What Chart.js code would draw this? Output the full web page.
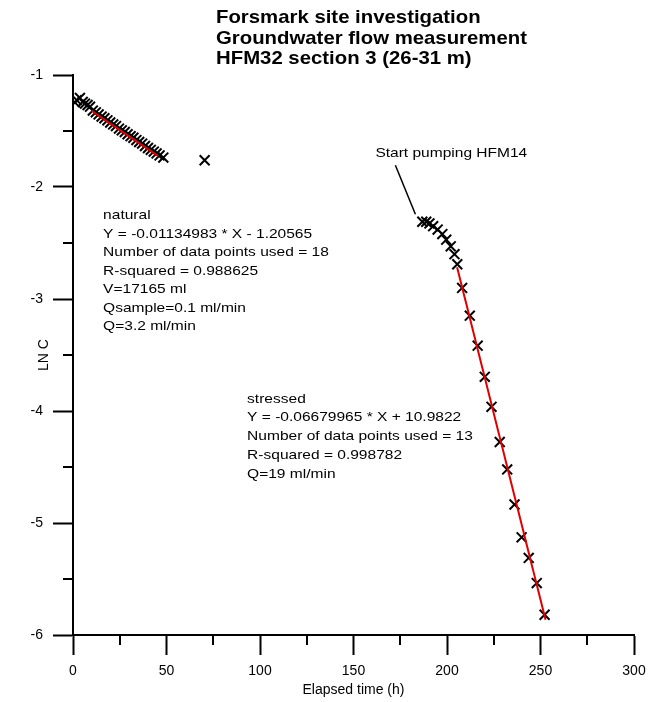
<!DOCTYPE html>
<html>
<head>
<meta charset="utf-8">
<script src="https://cdn.jsdelivr.net/npm/chart.js@4.4.1/dist/chart.umd.min.js"></script>
<style>
  html, body { margin: 0; padding: 0; background: #fff; }
  #wrap { width: 648px; height: 702px; }
</style>
</head>
<body>
<div id="wrap"><canvas id="lnChart" width="648" height="702"></canvas></div>
<script>
const titleLines = ['Forsmark site investigation', 'Groundwater flow measurement', 'HFM32 section 3 (26-31 m)'];
const xTitle = 'Elapsed time (h)';
const yTitle = 'LN C';

const xTickLabels = ['0', '50', '100', '150', '200', '250', '300'];
const yTickLabels = ['-6', '-5', '-4', '-3', '-2', '-1'];

// natural flow period
const naturalTime = [1.0, 2.0, 3.7, 5.2, 6.4, 7.8, 9.1, 10.6, 12.2, 13.7, 15.3, 16.8, 18.4, 19.9, 21.5, 23.0, 24.6,
    26.1, 27.7, 29.2, 30.8, 32.3, 33.9, 35.4, 37.0, 38.5, 40.1, 41.6, 43.2, 44.7, 46.3, 48.3, 70.4];
const naturalLnC = [-1.245, -1.225, -1.205, -1.240, -1.255, -1.268, -1.283, -1.318, -1.333, -1.352, -1.371, -1.386, -1.405,
    -1.424, -1.441, -1.456, -1.478, -1.494, -1.509, -1.529, -1.546, -1.560, -1.581, -1.598, -1.612, -1.634, -1.652,
    -1.668, -1.684, -1.700, -1.718, -1.737, -1.761];
const naturalFitTime = [10.0, 45.7];
const naturalFitLnC = [-1.319, -1.724];
const naturalText = ['natural', 'Y = -0.01134983 * X - 1.20565', 'Number of data points used = 18',
    'R-squared = 0.988625', 'V=17165 ml', 'Qsample=0.1 ml/min', 'Q=3.2 ml/min'];

// stressed period (pumping HFM14)
const stressedTime = [186.8, 188.9, 190.6, 192.6, 195.0, 197.5, 199.6, 202.0, 204.0, 205.5, 208.1, 212.2, 216.4,
    220.2, 223.8, 228.2, 232.2, 236.1, 239.9, 243.7, 248.0, 252.2];
const stressedLnC = [-2.31, -2.31, -2.325, -2.35, -2.38, -2.42, -2.47, -2.53, -2.60, -2.69, -2.901, -3.149, -3.417,
    -3.695, -3.963, -4.277, -4.522, -4.835, -5.128, -5.312, -5.536, -5.819];
const stressedFitTime = [205.4, 252.7];
const stressedFitLnC = [-2.716, -5.864];
const stressedText = ['stressed', 'Y = -0.06679965 * X + 10.9822', 'Number of data points used = 13',
    'R-squared = 0.998782', 'Q=19 ml/min'];

const pumpLabel = 'Start pumping HFM14';
const pumpLineTime = [172.4, 183.1];
const pumpLineLnC = [-1.806, -2.244];

const toXY = (xs, ys) => xs.map((x, i) => ({ x: x, y: ys[i] }));

function drawStretched(ctx, text, x, y, k) {
    ctx.save();
    ctx.translate(x, y);
    ctx.scale(k, 1);
    ctx.fillText(text, 0, 0);
    ctx.restore();
}

const textPlugin = {
    id: 'textPlugin',
    afterDraw(chart) {
        const ctx = chart.ctx;
        const xs = chart.scales.x;
        const ys = chart.scales.y;
        const area = chart.chartArea;

        // minor ticks (half steps), shorter than the major ones
        ctx.save();
        ctx.strokeStyle = '#000';
        ctx.lineWidth = 2;
        ctx.beginPath();
        xs.ticks.forEach(t => {
            if (t.value % 50 !== 0) {
                const px = Math.round(xs.getPixelForValue(t.value));
                ctx.moveTo(px, area.bottom);
                ctx.lineTo(px, area.bottom + 10);
            }
        });
        ys.ticks.forEach(t => {
            if (!Number.isInteger(t.value)) {
                const py = Math.round(ys.getPixelForValue(t.value));
                ctx.moveTo(area.left, py);
                ctx.lineTo(area.left - 10, py);
            }
        });
        ctx.stroke();
        ctx.restore();

        ctx.save();
        ctx.fillStyle = '#000';
        ctx.textBaseline = 'middle';
        ctx.textAlign = 'left';

        ctx.font = 'bold 18.5px "Liberation Sans", Arial, sans-serif';
        titleLines.forEach((t, i) => drawStretched(ctx, t, 216, 18 + i * 20.5, 1.1));

        ctx.font = '13.5px "Liberation Sans", Arial, sans-serif';
        const nx = xs.getPixelForValue(16.1);
        const ny = ys.getPixelForValue(-2.253);
        naturalText.forEach((t, i) => drawStretched(ctx, t, nx, ny + i * 18.5, 1.15));

        const sx = xs.getPixelForValue(93.1);
        const sy = ys.getPixelForValue(-3.892);
        stressedText.forEach((t, i) => drawStretched(ctx, t, sx, sy + i * 18.8, 1.15));

        drawStretched(ctx, pumpLabel, xs.getPixelForValue(161.7), ys.getPixelForValue(-1.698), 1.15);

        ctx.font = '14px "Liberation Sans", Arial, sans-serif';
        ctx.textAlign = 'center';
        ctx.fillText(xTitle, (area.left + area.right) / 2, 690);
        ctx.translate(44, (area.top + area.bottom) / 2);
        ctx.rotate(-Math.PI / 2);
        ctx.fillText(yTitle, 0, 0);
        ctx.restore();
    }
};

const canvas = document.getElementById('lnChart');
new Chart(canvas, {
    type: 'scatter',
    data: {
        datasets: [
            {
                label: 'natural fit',
                data: toXY(naturalFitTime, naturalFitLnC),
                showLine: true,
                borderColor: '#e00000',
                borderWidth: 2,
                pointRadius: 0
            },
            {
                label: 'stressed fit',
                data: toXY(stressedFitTime, stressedFitLnC),
                showLine: true,
                borderColor: '#e00000',
                borderWidth: 2,
                pointRadius: 0
            },
            {
                label: 'pumping marker',
                data: toXY(pumpLineTime, pumpLineLnC),
                showLine: true,
                borderColor: '#000',
                borderWidth: 1.5,
                pointRadius: 0
            },
            {
                label: 'natural',
                data: toXY(naturalTime, naturalLnC),
                pointStyle: 'crossRot',
                pointRadius: 7,
                borderColor: '#000',
                borderWidth: 2
            },
            {
                label: 'stressed',
                data: toXY(stressedTime, stressedLnC),
                pointStyle: 'crossRot',
                pointRadius: 7,
                borderColor: '#000',
                borderWidth: 2
            }
        ]
    },
    options: {
        responsive: false,
        animation: false,
        layout: { padding: { top: 75, right: 14, left: 0, bottom: 0 } },
        plugins: {
            legend: { display: false },
            tooltip: { enabled: false }
        },
        scales: {
            x: {
                type: 'linear',
                min: 0,
                max: 300,
                afterFit: scale => {
                    scale.height = 67;
                    scale.paddingLeft = 0;
                    scale.paddingRight = 0;
                },
                ticks: {
                    stepSize: 25,
                    autoSkip: false,
                    maxRotation: 0,
                    padding: 8,
                    color: '#000',
                    font: { family: '"Liberation Sans", Arial, sans-serif', size: 14 },
                    callback: v => (v % 50 === 0 ? xTickLabels[v / 50] : '')
                },
                grid: {
                    drawOnChartArea: false,
                    tickLength: 20,
                    tickWidth: 2,
                    tickColor: c => (c.tick && c.tick.value % 50 === 0 ? '#000' : 'rgba(0,0,0,0)')
                },
                border: { display: true, color: '#000', width: 2 }
            },
            y: {
                type: 'linear',
                min: -6,
                max: -1,
                afterFit: scale => { scale.width = 73; },
                ticks: {
                    stepSize: 0.5,
                    autoSkip: false,
                    padding: 10,
                    color: '#000',
                    font: { family: '"Liberation Sans", Arial, sans-serif', size: 14 },
                    callback: v => (Number.isInteger(v) ? yTickLabels[v + 6] : '')
                },
                grid: {
                    drawOnChartArea: false,
                    tickLength: 20,
                    tickWidth: 2,
                    tickColor: c => (c.tick && Number.isInteger(c.tick.value) ? '#000' : 'rgba(0,0,0,0)')
                },
                border: { display: true, color: '#000', width: 2 }
            }
        }
    },
    plugins: [textPlugin]
});
</script>
</body>
</html>
